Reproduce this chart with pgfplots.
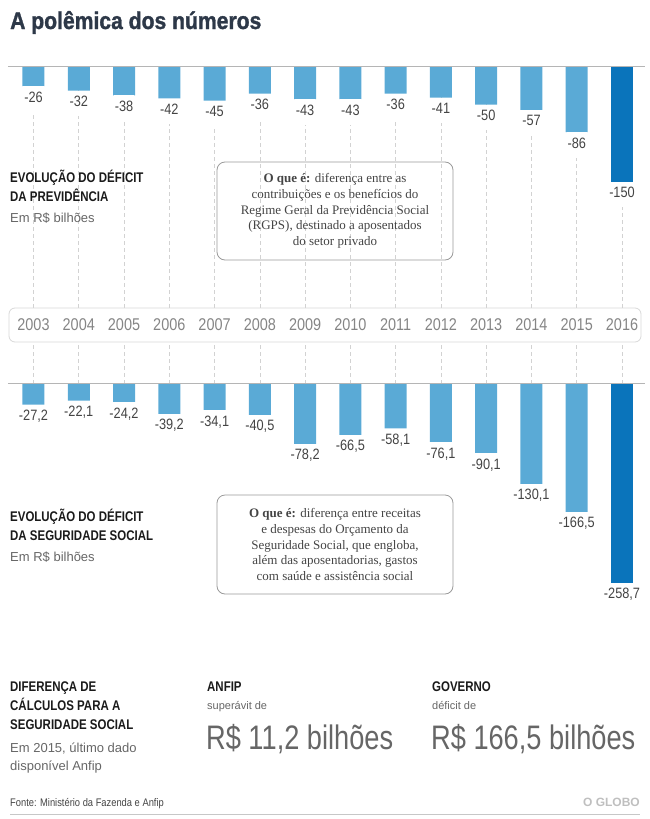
\documentclass[border=0pt]{standalone}
\usepackage{fontspec}
\usepackage{pgfplots}
\usepackage{pgfplotstable}
\pgfplotsset{compat=1.18}
\setmainfont{Liberation Sans}
\newfontfamily\condfont[FakeStretch=0.85]{Liberation Sans}
\newfontfamily\headfont[FakeStretch=0.82]{Liberation Sans}
\newfontfamily\titlefont[FakeStretch=0.88,FakeBold=1.3]{Liberation Sans Bold}
\newfontfamily\bignumfont[FakeStretch=0.8]{Liberation Sans}
\newfontfamily\seriffont{Liberation Serif}
\definecolor{titlec}{HTML}{2D3848}
\definecolor{headc}{HTML}{1A1A1A}
\definecolor{grayc}{HTML}{666666}
\definecolor{labc}{HTML}{444444}
\definecolor{yearc}{HTML}{858585}
\definecolor{lightb}{HTML}{5AAAD6}
\definecolor{darkb}{HTML}{0A74BB}
\definecolor{gridc}{HTML}{D2D2D2}
\definecolor{basec}{HTML}{B5B5B5}
\definecolor{boxc}{HTML}{9A9A9A}
\definecolor{yboxc}{HTML}{D8D8D8}

\pgfplotstableread{
x y lab
0 -26 -26
1 -32 -32
2 -38 -38
3 -42 -42
4 -45 -45
5 -36 -36
6 -43 -43
7 -43 -43
8 -36 -36
9 -41 -41
10 -50 -50
11 -57 -57
12 -86 -86
}\topA
\pgfplotstableread{
x y lab
13 -150 -150
}\topB
\pgfplotstableread{
x y lab
0 -27.2 -27,2
1 -22.1 -22,1
2 -24.2 -24,2
3 -39.2 -39,2
4 -34.1 -34,1
5 -40.5 -40,5
6 -78.2 -78,2
7 -66.5 -66,5
8 -58.1 -58,1
9 -76.1 -76,1
10 -90.1 -90,1
11 -130.1 -130,1
12 -166.5 -166,5
}\botA
\pgfplotstableread{
x y lab
13 -258.7 -258,7
}\botB

\tikzset{gridst/.style={draw=gridc, line width=0.6pt, dash pattern=on 4pt off 3pt}}
\pgfplotsset{
  barchart/.style={
    scale only axis, anchor=north west,
    width=637pt,
    xmin=-0.563, xmax=13.508,
    ybar, bar width=22pt, bar shift=0pt,
    axis line style={draw=none},
    ytick=\empty,
    xtick={0,...,13},
    major tick length=0pt,
    clip=false,
    point meta=explicit symbolic,
    nodes near coords={\pgfplotspointmeta},
    every node near coord/.append style={font=\condfont\fontsize{15}{15}\selectfont, text=labc,
      anchor=north, inner xsep=1pt, inner ysep=5.5pt, fill=white, text depth=4pt},
  },
}

\begin{document}
\begin{tikzpicture}
\useasboundingbox (0pt,0pt) rectangle (650pt,-819pt);

\node[anchor=base west, inner sep=0pt, text=titlec, font=\titlefont\fontsize{24}{24}\selectfont] at (10pt,-29pt) {A polêmica dos números};

% top chart
\begin{axis}[barchart,
  at={(8pt,-66pt)},
  height=241.8pt, ymin=-314, ymax=0,
  xticklabels={2003,2004,2005,2006,2007,2008,2009,2010,2011,2012,2013,2014,2015,2016},
  xticklabel style={font=\condfont\fontsize{17}{17}\selectfont, text=yearc, anchor=base, yshift=-23pt},
  xmajorgrids, major grid style={draw=gridc, line width=0.6pt, dash pattern=on 4pt off 3pt},
]
\addplot[fill=lightb, draw=none] table[x=x, y=y, meta=lab]{\topA};
\addplot[fill=darkb, draw=none] table[x=x, y=y, meta=lab]{\topB};
\draw[basec, line width=0.8pt] (rel axis cs:0,1) -- (rel axis cs:1,1);
\end{axis}

% year box
\draw[yboxc, line width=0.8pt, rounded corners=6pt] (9pt,-308pt) rectangle (641pt,-342pt);

% bottom chart
\begin{axis}[barchart,
  at={(8pt,-342pt)},
  height=257.95pt, ymin=-281, ymax=54,
  xticklabels={},
]
\pgfplotsinvokeforeach{0,...,13}{\draw[gridst] (axis cs:#1,0) -- (axis cs:#1,54);}
\addplot[fill=lightb, draw=none] table[x=x, y=y, meta=lab]{\botA};
\addplot[fill=darkb, draw=none] table[x=x, y=y, meta=lab]{\botB};
\draw[basec, line width=0.8pt] (axis cs:-0.563,0) -- (axis cs:13.508,0);
\end{axis}

\begin{scope}[every node/.style={anchor=base west, inner sep=0pt}]
\node[text=headc, font=\headfont\bfseries\fontsize{14}{14}\selectfont] at (10pt,-182pt) {EVOLUÇÃO DO DÉFICIT};
\node[text=headc, font=\headfont\bfseries\fontsize{14}{14}\selectfont] at (10pt,-201pt) {DA PREVIDÊNCIA};
\node[text=grayc, font=\fontsize{13}{13}\selectfont] at (10pt,-222pt) {Em R\$ bilhões};

\node[text=headc, font=\headfont\bfseries\fontsize{14}{14}\selectfont] at (10pt,-521pt) {EVOLUÇÃO DO DÉFICIT};
\node[text=headc, font=\headfont\bfseries\fontsize{14}{14}\selectfont] at (10pt,-540pt) {DA SEGURIDADE SOCIAL};
\node[text=grayc, font=\fontsize{13}{13}\selectfont] at (10pt,-561pt) {Em R\$ bilhões};

\node[text=headc, font=\headfont\bfseries\fontsize{14}{14}\selectfont] at (10pt,-691pt) {DIFERENÇA DE};
\node[text=headc, font=\headfont\bfseries\fontsize{14}{14}\selectfont] at (10pt,-710pt) {CÁLCULOS PARA A};
\node[text=headc, font=\headfont\bfseries\fontsize{14}{14}\selectfont] at (10pt,-729pt) {SEGURIDADE SOCIAL};
\node[text=grayc, font=\fontsize{13}{13}\selectfont] at (10pt,-752pt) {Em 2015, último dado};
\node[text=grayc, font=\fontsize{13}{13}\selectfont] at (10pt,-770pt) {disponível Anfip};

\node[text=headc, font=\headfont\bfseries\fontsize{14}{14}\selectfont] at (207pt,-691pt) {ANFIP};
\node[text=grayc, font=\fontsize{11}{11}\selectfont] at (207pt,-709pt) {superávit de};
\node[text=grayc, font=\bignumfont\fontsize{34}{34}\selectfont] at (206pt,-749pt) {R\$ 11,2 bilhões};

\node[text=headc, font=\headfont\bfseries\fontsize{14}{14}\selectfont] at (432pt,-691pt) {GOVERNO};
\node[text=grayc, font=\fontsize{11}{11}\selectfont] at (432pt,-709pt) {déficit de};
\node[text=grayc, font=\bignumfont\fontsize{34}{34}\selectfont] at (431pt,-749pt) {R\$ 166,5 bilhões};

\node[text=labc, font=\condfont\fontsize{11}{11}\selectfont] at (10pt,-806pt) {Fonte: Ministério da Fazenda e Anfip};
\end{scope}
\node[anchor=base east, inner sep=0pt, text=black!25, font=\bfseries\fontsize{12}{12}\selectfont] at (640pt,-806pt) {O GLOBO};
\draw[black!22, line width=0.8pt] (10pt,-814pt) -- (640pt,-814pt);

\draw[boxc, line width=0.8pt, rounded corners=8pt] (217pt,-162pt) rectangle (453pt,-260pt);
\node[align=center, text=labc, font=\seriffont\fontsize{13}{15.8}\selectfont] at (335pt,-211pt)
 {\textbf{O que é:} diferença entre as\\contribuições e os benefícios do\\Regime Geral da Previdência Social\\(RGPS), destinado a aposentados\\do setor privado};
\draw[boxc, line width=0.8pt, rounded corners=8pt] (217pt,-495pt) rectangle (453pt,-594pt);
\node[align=center, text=labc, font=\seriffont\fontsize{13}{15.8}\selectfont] at (335pt,-544.5pt)
 {\textbf{O que é:} diferença entre receitas\\e despesas do Orçamento da\\Seguridade Social, que engloba,\\além das aposentadorias, gastos\\com saúde e assistência social};
\end{tikzpicture}
\end{document}
